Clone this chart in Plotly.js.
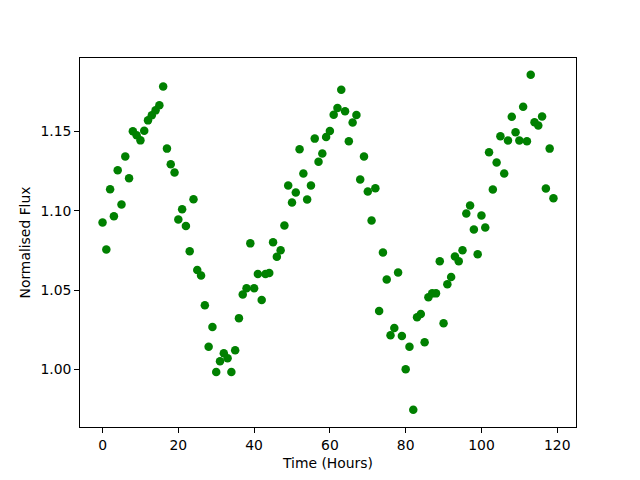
<!DOCTYPE html>
<html>
<head>
<meta charset="utf-8">
<script src="https://cdn.plot.ly/plotly-3.0.1.min.js"></script>
<style>html,body{margin:0;padding:0;background:#fff;}#chart{width:640px;height:480px;}</style>
</head>
<body>
<div id="chart"></div>
<script>
const hours = Array.from({length: 120}, (_, i) => i);
const flux = [
  1.0926, 1.0756, 1.1135, 1.0965, 1.1255, 1.1039, 1.1341, 1.1204, 1.1500, 1.1475,
  1.1443, 1.1504, 1.1569, 1.1601, 1.1632, 1.1664, 1.1783, 1.1391, 1.1292, 1.1240,
  1.0945, 1.1009, 1.0903, 1.0745, 1.1072, 1.0626, 1.0592, 1.0404, 1.0142, 1.0267,
  0.9984, 1.0052, 1.0102, 1.0070, 0.9984, 1.0121, 1.0323, 1.0472, 1.0511, 1.0794,
  1.0511, 1.0601, 1.0437, 1.0601, 1.0607, 1.0801, 1.0709, 1.0750, 1.0907, 1.1158,
  1.1052, 1.1114, 1.1387, 1.1234, 1.1070, 1.1158, 1.1454, 1.1309, 1.1360, 1.1464,
  1.1502, 1.1605, 1.1647, 1.1762, 1.1626, 1.1437, 1.1555, 1.1603, 1.1196, 1.1341,
  1.1121, 1.0938, 1.1142, 1.0368, 1.0737, 1.0567, 1.0215, 1.0261, 1.0611, 1.0211,
  1.0001, 1.0142, 0.9745, 1.0328, 1.0349, 1.0171, 1.0454, 1.0479, 1.0479, 1.0682,
  1.0291, 1.0536, 1.0582, 1.0712, 1.0681, 1.0750, 1.0982, 1.1033, 1.0882, 1.0725,
  1.0970, 1.0894, 1.1368, 1.1133, 1.1303, 1.1469, 1.1234, 1.1442, 1.1592, 1.1494,
  1.1442, 1.1655, 1.1437, 1.1857, 1.1557, 1.1536, 1.1594, 1.1140, 1.1391, 1.1079
];
const xTicks = [0, 20, 40, 60, 80, 100, 120];
const yTicks = [1.00, 1.05, 1.10, 1.15];
const xLabel = 'Time (Hours)';
const yLabel = 'Normalised Flux';

const font = {family: 'DejaVu Sans', size: 13.9, color: '#000'};
const trace = {
  x: hours, y: flux, type: 'scatter', mode: 'markers',
  marker: {color: '#008000', size: 8.5, line: {width: 0}},
  hoverinfo: 'skip'
};
const axisCommon = {
  showgrid: false, zeroline: false, showline: true, mirror: true,
  linecolor: '#000', linewidth: 1, ticks: 'outside', ticklen: 4.9, tickwidth: 1,
  tickcolor: '#000', tickfont: font
};
const layout = {
  width: 640, height: 480,
  paper_bgcolor: '#fff', plot_bgcolor: '#fff',
  margin: {l: 80, r: 64, t: 58, b: 53, pad: 0},
  showlegend: false,
  font: font,
  xaxis: Object.assign({}, axisCommon, {
    range: [-5.95, 124.95], tickvals: xTicks, ticktext: xTicks.map(String),
    title: {text: xLabel, font: font, standoff: 6}
  }),
  yaxis: Object.assign({}, axisCommon, {
    range: [0.9637, 1.1962], tickvals: yTicks, ticktext: yTicks.map(v => v.toFixed(2)),
    title: {text: yLabel, font: font, standoff: 6}
  })
};
Plotly.newPlot('chart', [trace], layout, {displayModeBar: false, staticPlot: true});
</script>
</body>
</html>
